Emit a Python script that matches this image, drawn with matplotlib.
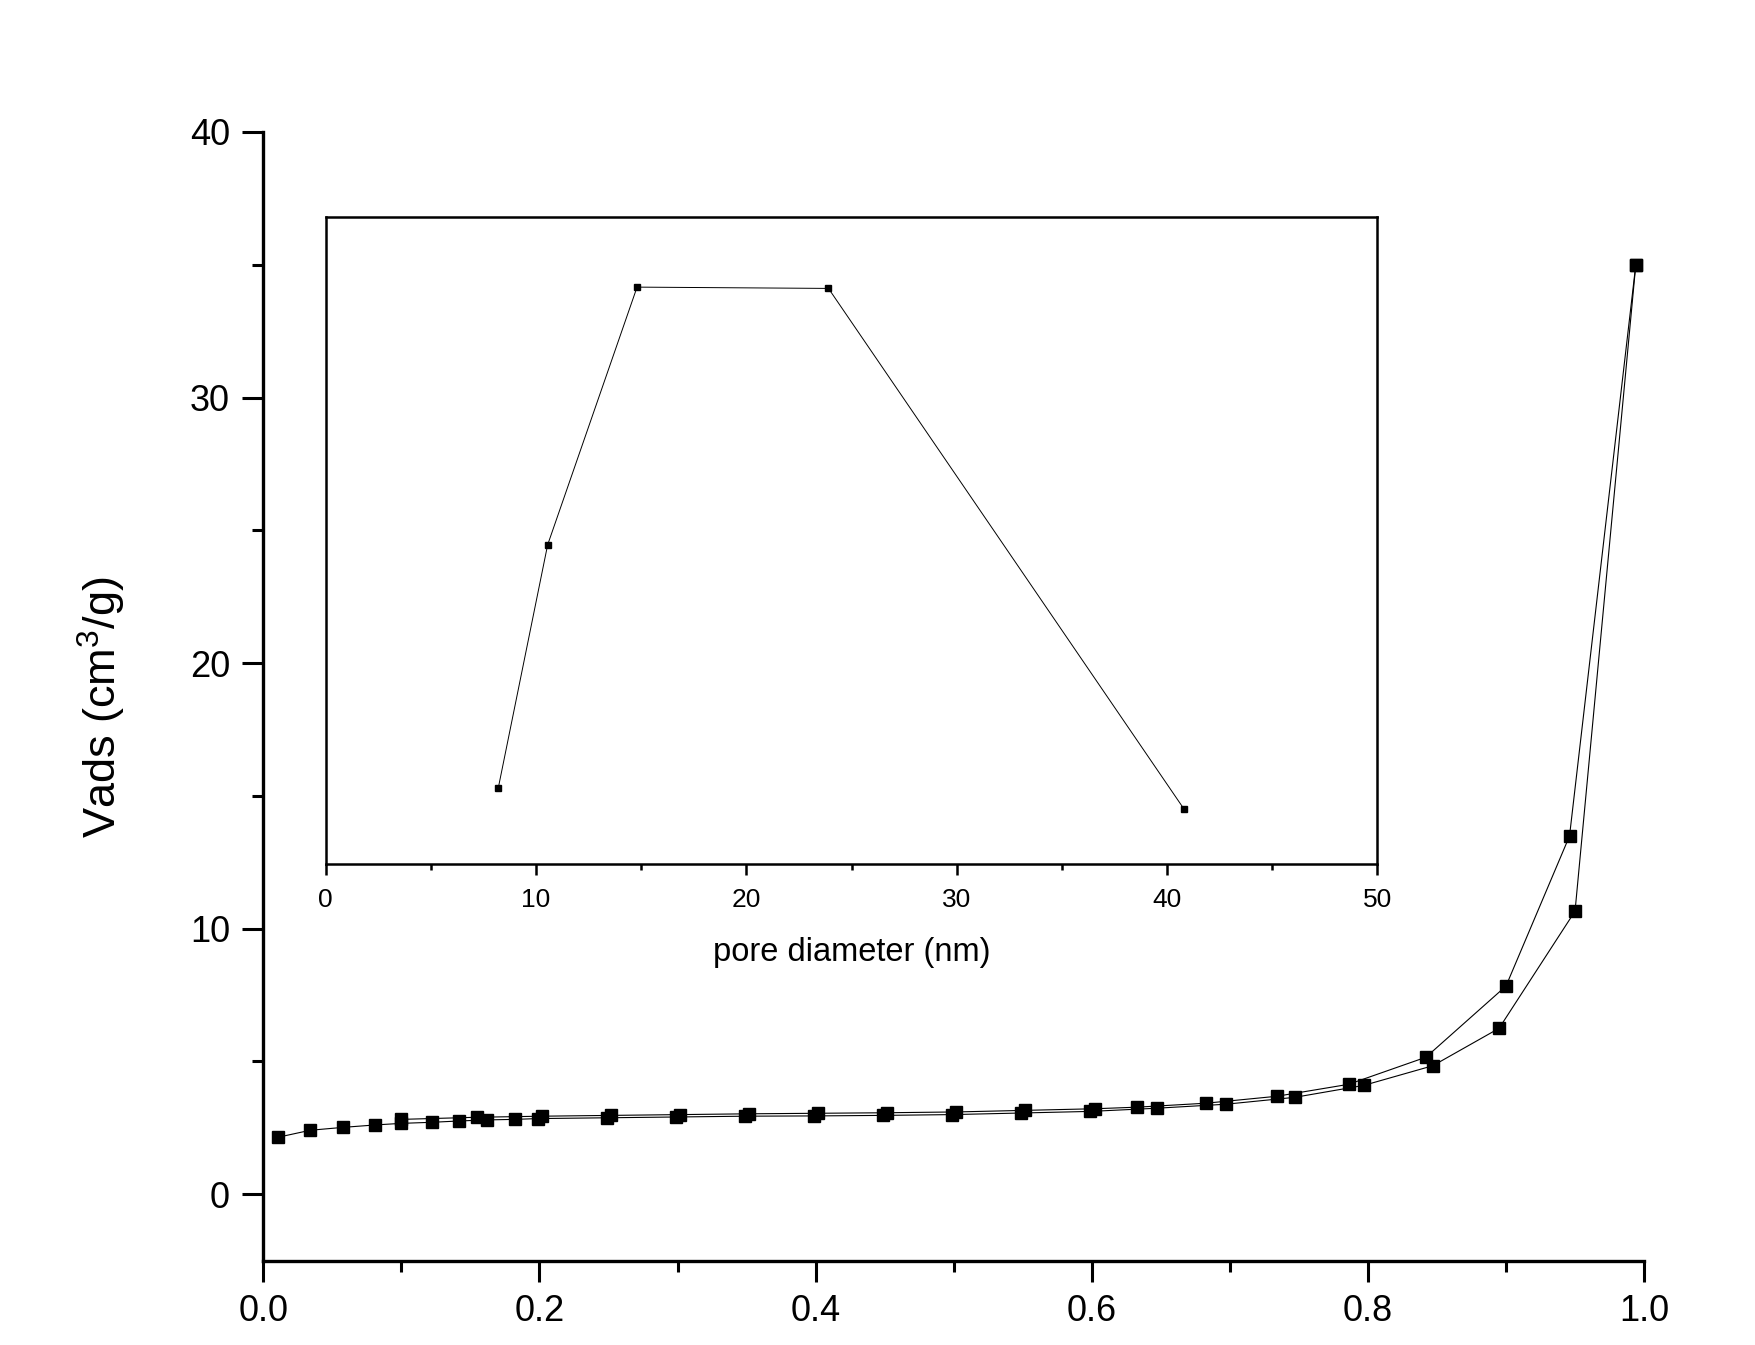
import matplotlib
matplotlib.use("Agg")
import matplotlib.pyplot as plt
from matplotlib.ticker import MultipleLocator

plt.rcParams['font.family'] = ['Liberation Sans', 'DejaVu Sans']
plt.rcParams['mathtext.fontset'] = 'custom'
plt.rcParams['mathtext.rm'] = 'Liberation Sans'

# adsorption branch (P/P0, Vads)
ads_p = [0.011, 0.034, 0.058, 0.081, 0.100, 0.122, 0.142, 0.162, 0.182, 0.199,
         0.249, 0.299, 0.349, 0.399, 0.449, 0.499, 0.549, 0.599, 0.647, 0.697,
         0.747, 0.797, 0.847, 0.895, 0.950, 0.994]
ads_v = [2.15, 2.41, 2.52, 2.61, 2.67, 2.71, 2.76, 2.80, 2.82, 2.85,
         2.88, 2.91, 2.94, 2.95, 2.97, 3.00, 3.06, 3.12, 3.24, 3.39,
         3.65, 4.10, 4.84, 6.25, 10.66, 35.0]

# desorption branch
des_p = [0.994, 0.946, 0.900, 0.842, 0.786, 0.734, 0.683, 0.633, 0.602, 0.552,
         0.502, 0.452, 0.402, 0.352, 0.302, 0.252, 0.202, 0.155, 0.100]
des_v = [35.0, 13.49, 7.84, 5.16, 4.14, 3.69, 3.43, 3.28, 3.22, 3.16,
         3.10, 3.07, 3.05, 3.03, 3.00, 2.97, 2.94, 2.90, 2.82]

# inset: pore size distribution
pore_d = [8.2, 10.55, 14.8, 23.9, 40.8]
pore_v = [0.117, 0.493, 0.891, 0.889, 0.085]

fig = plt.figure(figsize=(17.55, 13.45), dpi=100)
ax = fig.add_axes([0.150, 0.0627, 0.7868, 0.8392])

ax.plot(ads_p, ads_v, color="black", lw=0.8, marker="s", ms=8, mfc="black", mec="black")
ax.plot(des_p, des_v, color="black", lw=0.8, marker="s", ms=8, mfc="black", mec="black")

ax.set_xlim(0, 1.0)
ax.set_ylim(-2.5, 40)
ax.spines['top'].set_visible(False)
ax.spines['right'].set_visible(False)
for s in ['left', 'bottom']:
    ax.spines[s].set_linewidth(2.4)
ax.xaxis.set_major_locator(MultipleLocator(0.2))
ax.xaxis.set_minor_locator(MultipleLocator(0.1))
ax.yaxis.set_major_locator(MultipleLocator(10))
ax.yaxis.set_minor_locator(MultipleLocator(5))
ax.tick_params(which='major', direction='out', length=15, width=2.2, labelsize=26, pad=9)
ax.tick_params(which='minor', direction='out', length=8, width=2.2)
ax.xaxis.set_major_formatter(matplotlib.ticker.FormatStrFormatter('%.1f'))
ax.set_ylabel(r'Vads (cm$^3$/g)', fontsize=32.5)
ax.yaxis.set_label_coords(-0.098, 0.49)

ins = fig.add_axes([0.1856, 0.3576, 0.5993, 0.4814])
ins.plot(pore_d, pore_v, color="black", lw=0.7, marker="s", ms=5, mfc="black", mec="black")
ins.set_xlim(0, 50)
ins.set_ylim(0, 1.0)
for s in ins.spines.values():
    s.set_linewidth(1.8)
ins.xaxis.set_major_locator(MultipleLocator(10))
ins.xaxis.set_minor_locator(MultipleLocator(5))
ins.yaxis.set_visible(False)
ins.tick_params(axis='x', which='major', direction='out', length=8, width=1.8, labelsize=19, pad=9)
ins.tick_params(axis='x', which='minor', direction='out', length=4, width=1.8)
ins.set_xlabel('pore diameter (nm)', fontsize=23.5, labelpad=18)

fig.savefig("out.png", dpi=100)
